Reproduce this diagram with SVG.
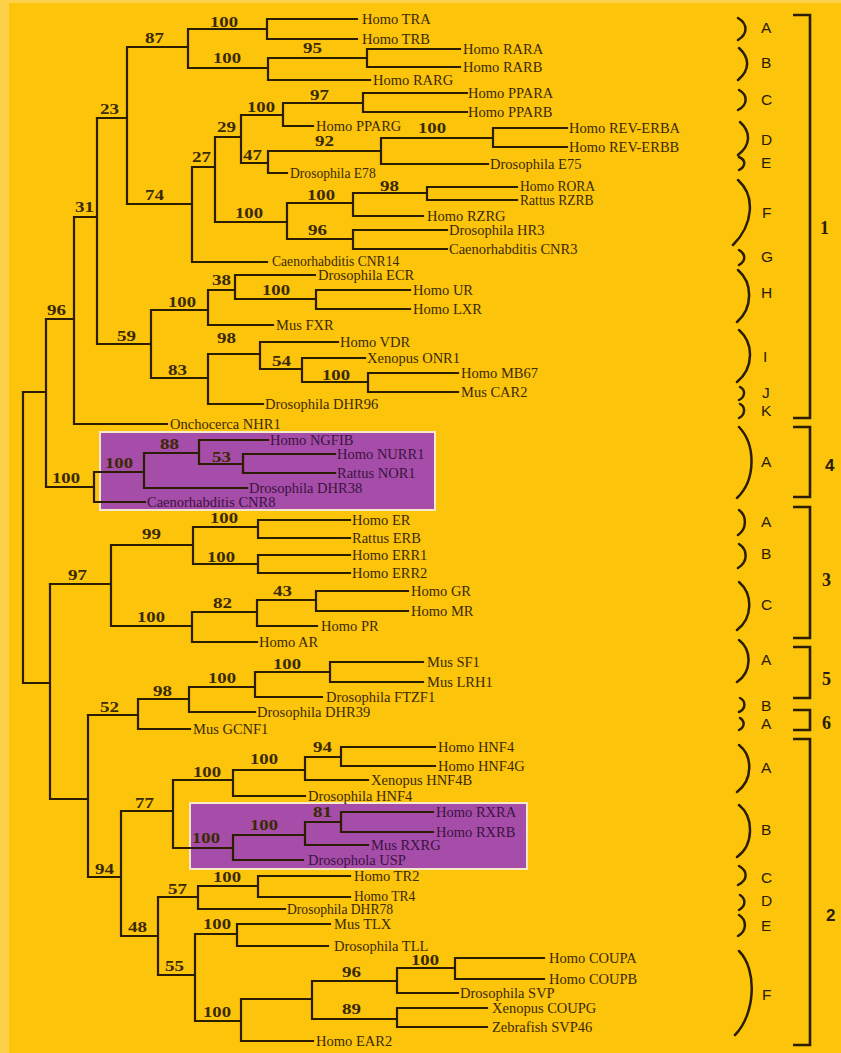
<svg xmlns="http://www.w3.org/2000/svg" width="841" height="1053" viewBox="0 0 841 1053">
<style>
.e{fill:none;stroke:#2a1d00;stroke-width:2.2;stroke-linecap:square}
.br{fill:none;stroke:#2a1d00;stroke-width:2.5;stroke-linecap:round}
.gb{fill:none;stroke:#2a1d00;stroke-width:2.6}
.l{font-family:"Liberation Serif","Times New Roman",serif;font-size:14.5px;fill:#3a2a02}
.t{font-size:13.6px}
.p .l{fill:#3a1440}
.n{font-family:"Liberation Serif","Times New Roman",serif;font-size:14.5px;font-weight:bold;fill:#3a2a02}
.s{font-family:"Liberation Sans",Arial,sans-serif;font-size:15.5px;fill:#2a1d00}
.g{font-family:"Liberation Serif","Times New Roman",serif;font-size:18px;font-weight:bold;fill:#2a1d00}
.gs{font-family:"Liberation Sans",Arial,sans-serif;font-size:17px;font-weight:bold;fill:#2a1d00}
.box{fill:#a64ca9;stroke:#f6e8c8;stroke-width:2}
</style>
<rect x="0" y="0" width="841" height="1053" fill="#fdd24a"/>
<rect x="9" y="3" width="832" height="1050" fill="#fdc40c"/>

<g id="highlight-boxes">
<rect class="box" x="100" y="432" width="335" height="78"/>
<rect class="box" x="190" y="803" width="337" height="66"/>
</g>

<g id="connectors">
<path class="e" d="M267 19H357M267 39H357M267 19V39M188 29H267M367 49H460M367 67H460M367 49V67M268 58H367M268 80H370M268 58V80M188 68H268M188 29V68M127 47H188
M363 93H467M363 112H467M363 93V112M283 103H363M283 126H313M283 103V126M241 115H283
M493 128H567M493 147H567M493 128V147M381 138H493M381 164H488M381 138V164M268 151H381M268 173H287M268 151V173M241 163H268M241 115V163M215 137H241
M427 187H517M427 200H517M427 187V200M353 193H427M353 216H423M353 193V216M287 203H353
M353 230H447M353 249H447M353 230V249M287 239H353M287 203V239M215 222H287M215 137V222M192 167H215M192 262H267M192 167V262M127 204H192M127 47V204M97 118H127"/>
<path class="e" d="M235 275H315M316 290H410M316 309H410M316 290V309M235 299H316M235 275V299M208 290H235M208 325H273M208 290V325M151 310H208
M260 342H338M302 358H365M368 373H458M368 392H458M368 373V392M302 382H368M302 358V382M260 369H302M260 342V369M208 354H260M208 404H263M208 354V404M151 378H208M151 310V378M97 344H151M97 118V344M74 217H97M74 424H167M74 217V424M46 319H74"/>
<path class="e" d="M199 440H268M243 454H335M243 473H335M243 454V473M199 464H243M199 440V464M144 453H199M144 488H247M144 453V488M94 472H144M94 502H145M94 472V502M46 487H94M46 319V487M23 392H46"/>
<path class="e" d="M258 520H350M258 538H350M258 520V538M193 527H258M258 555H350M258 573H350M258 555V573M193 564H258M193 527V564M111 545H193
M316 591H408M316 611H408M316 591V611M257 600H316M257 626H317M257 600V626M192 612H257M192 642H257M192 612V642M111 626H192M111 545V626M50 584H111"/>
<path class="e" d="M330 662H423M330 682H423M330 662V682M255 672H330M255 697H322M255 672V697M189 687H255M189 712H255M189 687V712M138 699H189M138 729H190M138 699V729M88 715H138"/>
<path class="e" d="M341 747H435M341 766H435M341 747V766M305 757H341M305 780H368M305 757V780M233 770H305M233 796H305M233 770V796M173 780H233
M341 812H433M341 832H433M341 812V832M305 822H341M305 845H368M305 822V845M233 835H305M233 860H303M233 835V860M173 848H233M173 780V848M121 811H173
M258 876H350M258 897H350M258 876V897M198 886H258M198 909H285M198 886V909M158 897H198
M237 924H330M237 946H328M237 924V946M195 934H237
M455 958H544M455 979H544M455 958V979M397 968H455M397 993H458M397 968V993M312 981H397M397 1008H487M397 1027H487M397 1008V1027M312 1019H397M312 981V1019M241 999H312M241 1041H313M241 999V1041M195 1021H241M195 934V1021M158 975H195M158 897V975M121 936H158M121 811V936M88 877H121M88 715V877M50 799H88M50 584V799M23 683H50M23 392V683"/>
</g>

<g id="leaves">
<g id="n-TRA"><text class="l" x="362" y="24">Homo TRA</text></g>
<g id="n-TRB"><text class="l" x="362" y="44">Homo TRB</text></g>
<g id="n-RARA"><text class="l" x="463" y="54">Homo RARA</text></g>
<g id="n-RARB"><text class="l" x="463" y="72">Homo RARB</text></g>
<g id="n-RARG"><text class="l" x="373" y="85">Homo RARG</text></g>
<g id="n-PPARA"><text class="l" x="468" y="98">Homo PPARA</text></g>
<g id="n-PPARB"><text class="l" x="468" y="117">Homo PPARB</text></g>
<g id="n-PPARG"><text class="l" x="316" y="131">Homo PPARG</text></g>
<g id="n-REVERBA"><text class="l" x="569" y="133">Homo REV-ERBA</text></g>
<g id="n-REVERBB"><text class="l" x="569" y="152">Homo REV-ERBB</text></g>
<g id="n-E75"><text class="l" x="490" y="169">Drosophila E75</text></g>
<g id="n-E78"><text class="l t" x="290" y="178">Drosophila E78</text></g>
<g id="n-RORA"><text class="l t" x="520" y="191">Homo RORA</text></g>
<g id="n-RZRB"><text class="l t" x="520" y="205">Rattus RZRB</text></g>
<g id="n-RZRG"><text class="l" x="427" y="221">Homo RZRG</text></g>
<g id="n-HR3"><text class="l" x="449" y="235">Drosophila HR3</text></g>
<g id="n-CNR3"><text class="l" x="449" y="254">Caenorhabditis CNR3</text></g>
<g id="n-CNR14"><text class="l t" x="272" y="266">Caenorhabditis CNR14</text></g>
<g id="n-ECR"><text class="l" x="318" y="280">Drosophila ECR</text></g>
<g id="n-UR"><text class="l" x="413" y="295">Homo UR</text></g>
<g id="n-LXR"><text class="l" x="413" y="314">Homo LXR</text></g>
<g id="n-FXR"><text class="l" x="276" y="330">Mus FXR</text></g>
<g id="n-VDR"><text class="l" x="340" y="347">Homo VDR</text></g>
<g id="n-ONR1"><text class="l" x="367" y="363">Xenopus ONR1</text></g>
<g id="n-MB67"><text class="l" x="461" y="378">Homo MB67</text></g>
<g id="n-CAR2"><text class="l" x="461" y="397">Mus CAR2</text></g>
<g id="n-DHR96"><text class="l" x="265" y="409">Drosophila DHR96</text></g>
<g id="n-NHR1"><text class="l" x="170" y="429">Onchocerca NHR1</text></g>
<g class="p">
<g id="n-NGFIB"><text class="l" x="270" y="445">Homo NGFIB</text></g>
<g id="n-NURR1"><text class="l" x="337" y="459">Homo NURR1</text></g>
<g id="n-NOR1"><text class="l" x="337" y="478">Rattus NOR1</text></g>
<g id="n-DHR38"><text class="l" x="249" y="493">Drosophila DHR38</text></g>
<g id="n-CNR8"><text class="l" x="147" y="507">Caenorhabditis CNR8</text></g>
</g>
<g id="n-ER"><text class="l" x="352" y="525">Homo ER</text></g>
<g id="n-ERB"><text class="l" x="352" y="543">Rattus ERB</text></g>
<g id="n-ERR1"><text class="l" x="352" y="560">Homo ERR1</text></g>
<g id="n-ERR2"><text class="l" x="352" y="578">Homo ERR2</text></g>
<g id="n-GR"><text class="l" x="411" y="596">Homo GR</text></g>
<g id="n-MR"><text class="l" x="411" y="616">Homo MR</text></g>
<g id="n-PR"><text class="l" x="321" y="631">Homo PR</text></g>
<g id="n-AR"><text class="l" x="259" y="647">Homo AR</text></g>
<g id="n-SF1"><text class="l" x="427" y="667">Mus SF1</text></g>
<g id="n-LRH1"><text class="l" x="427" y="687">Mus LRH1</text></g>
<g id="n-FTZF1"><text class="l" x="326" y="702">Drosophila FTZF1</text></g>
<g id="n-DHR39"><text class="l" x="257" y="717">Drosophila DHR39</text></g>
<g id="n-GCNF1"><text class="l" x="193" y="734">Mus GCNF1</text></g>
<g id="n-HNF4"><text class="l" x="438" y="752">Homo HNF4</text></g>
<g id="n-HNF4G"><text class="l" x="438" y="771">Homo HNF4G</text></g>
<g id="n-HNF4B"><text class="l" x="371" y="785">Xenopus HNF4B</text></g>
<g id="n-dHNF4"><text class="l" x="308" y="801">Drosophila HNF4</text></g>
<g class="p">
<g id="n-RXRA"><text class="l" x="436" y="817">Homo RXRA</text></g>
<g id="n-RXRB"><text class="l" x="436" y="837">Homo RXRB</text></g>
<g id="n-RXRG"><text class="l" x="371" y="850">Mus RXRG</text></g>
<g id="n-USP"><text class="l" x="308" y="865">Drosophola USP</text></g>
</g>
<g id="n-TR2"><text class="l" x="354" y="881">Homo TR2</text></g>
<g id="n-TR4"><text class="l t" x="354" y="901">Homo TR4</text></g>
<g id="n-DHR78"><text class="l t" x="287" y="914">Drosophila DHR78</text></g>
<g id="n-TLX"><text class="l" x="334" y="929">Mus TLX</text></g>
<g id="n-TLL"><text class="l" x="334" y="951">Drosophila TLL</text></g>
<g id="n-COUPA"><text class="l" x="549" y="963">Homo COUPA</text></g>
<g id="n-COUPB"><text class="l" x="549" y="984">Homo COUPB</text></g>
<g id="n-SVP"><text class="l" x="460" y="998">Drosophila SVP</text></g>
<g id="n-COUPG"><text class="l" x="492" y="1013">Xenopus COUPG</text></g>
<g id="n-SVP46"><text class="l" x="492" y="1032">Zebrafish SVP46</text></g>
<g id="n-EAR2"><text class="l" x="316" y="1046">Homo EAR2</text></g>
</g>

<g id="bootstrap">
<text class="n" x="210" y="27" textLength="28" lengthAdjust="spacingAndGlyphs">100</text>
<text class="n" x="145" y="43" textLength="19" lengthAdjust="spacingAndGlyphs">87</text>
<text class="n" x="303" y="53" textLength="19" lengthAdjust="spacingAndGlyphs">95</text>
<text class="n" x="213" y="63" textLength="28" lengthAdjust="spacingAndGlyphs">100</text>
<text class="n" x="310" y="100" textLength="19" lengthAdjust="spacingAndGlyphs">97</text>
<text class="n" x="247" y="112" textLength="28" lengthAdjust="spacingAndGlyphs">100</text>
<text class="n" x="217" y="132" textLength="19" lengthAdjust="spacingAndGlyphs">29</text>
<text class="n" x="315" y="146" textLength="19" lengthAdjust="spacingAndGlyphs">92</text>
<text class="n" x="418" y="133" textLength="28" lengthAdjust="spacingAndGlyphs">100</text>
<text class="n" x="243" y="160" textLength="19" lengthAdjust="spacingAndGlyphs">47</text>
<text class="n" x="192" y="162" textLength="19" lengthAdjust="spacingAndGlyphs">27</text>
<text class="n" x="100" y="114" textLength="19" lengthAdjust="spacingAndGlyphs">23</text>
<text class="n" x="145" y="200" textLength="19" lengthAdjust="spacingAndGlyphs">74</text>
<text class="n" x="307" y="200" textLength="28" lengthAdjust="spacingAndGlyphs">100</text>
<text class="n" x="380" y="191" textLength="19" lengthAdjust="spacingAndGlyphs">98</text>
<text class="n" x="235" y="218" textLength="28" lengthAdjust="spacingAndGlyphs">100</text>
<text class="n" x="75" y="212" textLength="19" lengthAdjust="spacingAndGlyphs">31</text>
<text class="n" x="308" y="235" textLength="19" lengthAdjust="spacingAndGlyphs">96</text>
<text class="n" x="212" y="285" textLength="19" lengthAdjust="spacingAndGlyphs">38</text>
<text class="n" x="262" y="295" textLength="28" lengthAdjust="spacingAndGlyphs">100</text>
<text class="n" x="168" y="307" textLength="28" lengthAdjust="spacingAndGlyphs">100</text>
<text class="n" x="47" y="315" textLength="19" lengthAdjust="spacingAndGlyphs">96</text>
<text class="n" x="217" y="343" textLength="19" lengthAdjust="spacingAndGlyphs">98</text>
<text class="n" x="117" y="341" textLength="19" lengthAdjust="spacingAndGlyphs">59</text>
<text class="n" x="272" y="366" textLength="19" lengthAdjust="spacingAndGlyphs">54</text>
<text class="n" x="168" y="375" textLength="19" lengthAdjust="spacingAndGlyphs">83</text>
<text class="n" x="322" y="380" textLength="28" lengthAdjust="spacingAndGlyphs">100</text>
<text class="n" x="160" y="449" textLength="19" lengthAdjust="spacingAndGlyphs">88</text>
<text class="n" x="212" y="462" textLength="19" lengthAdjust="spacingAndGlyphs">53</text>
<text class="n" x="105" y="468" textLength="28" lengthAdjust="spacingAndGlyphs">100</text>
<text class="n" x="52" y="483" textLength="28" lengthAdjust="spacingAndGlyphs">100</text>
<text class="n" x="210" y="523" textLength="28" lengthAdjust="spacingAndGlyphs">100</text>
<text class="n" x="142" y="539" textLength="19" lengthAdjust="spacingAndGlyphs">99</text>
<text class="n" x="207" y="562" textLength="28" lengthAdjust="spacingAndGlyphs">100</text>
<text class="n" x="68" y="580" textLength="19" lengthAdjust="spacingAndGlyphs">97</text>
<text class="n" x="273" y="596" textLength="19" lengthAdjust="spacingAndGlyphs">43</text>
<text class="n" x="213" y="608" textLength="19" lengthAdjust="spacingAndGlyphs">82</text>
<text class="n" x="137" y="622" textLength="28" lengthAdjust="spacingAndGlyphs">100</text>
<text class="n" x="273" y="669" textLength="28" lengthAdjust="spacingAndGlyphs">100</text>
<text class="n" x="208" y="683" textLength="28" lengthAdjust="spacingAndGlyphs">100</text>
<text class="n" x="153" y="696" textLength="19" lengthAdjust="spacingAndGlyphs">98</text>
<text class="n" x="100" y="712" textLength="19" lengthAdjust="spacingAndGlyphs">52</text>
<text class="n" x="313" y="752" textLength="19" lengthAdjust="spacingAndGlyphs">94</text>
<text class="n" x="250" y="764" textLength="28" lengthAdjust="spacingAndGlyphs">100</text>
<text class="n" x="193" y="777" textLength="28" lengthAdjust="spacingAndGlyphs">100</text>
<text class="n" x="135" y="808" textLength="19" lengthAdjust="spacingAndGlyphs">77</text>
<text class="n" x="313" y="817" textLength="19" lengthAdjust="spacingAndGlyphs">81</text>
<text class="n" x="250" y="830" textLength="28" lengthAdjust="spacingAndGlyphs">100</text>
<text class="n" x="192" y="843" textLength="28" lengthAdjust="spacingAndGlyphs">100</text>
<text class="n" x="95" y="874" textLength="19" lengthAdjust="spacingAndGlyphs">94</text>
<text class="n" x="213" y="882" textLength="28" lengthAdjust="spacingAndGlyphs">100</text>
<text class="n" x="168" y="894" textLength="19" lengthAdjust="spacingAndGlyphs">57</text>
<text class="n" x="203" y="929" textLength="28" lengthAdjust="spacingAndGlyphs">100</text>
<text class="n" x="128" y="932" textLength="19" lengthAdjust="spacingAndGlyphs">48</text>
<text class="n" x="411" y="965" textLength="28" lengthAdjust="spacingAndGlyphs">100</text>
<text class="n" x="165" y="971" textLength="19" lengthAdjust="spacingAndGlyphs">55</text>
<text class="n" x="342" y="977" textLength="19" lengthAdjust="spacingAndGlyphs">96</text>
<text class="n" x="342" y="1014" textLength="19" lengthAdjust="spacingAndGlyphs">89</text>
<text class="n" x="203" y="1017" textLength="28" lengthAdjust="spacingAndGlyphs">100</text>
</g>

<g id="subfamily-marks">
<path class="br" d="M738 18C748 24 748 34 738 40M739 48C750 58 750 70 738 80M739 90C748 95 748 105 738 110M740 122C751 132 751 145 738 155M739 157C746 160 746 166 739 170M738 180C756 196 753 225 733 245M739 250C746 254 746 261 739 265M738 270C753 283 753 308 737 322M739 330C754 343 754 368 737 382M740 387C746 390 745 397 739 400M740 404C746 407 745 415 739 418"/>
<path class="br" d="M739 427C756 445 756 480 737 498M739 510C747 516 747 529 738 535M739 544C748 550 748 562 738 568M739 582C753 594 753 618 737 630M739 640C752 650 752 672 737 682M740 698C746 701 746 709 739 712M740 718C745 721 745 727 739 730"/>
<path class="br" d="M739 745C753 756 753 780 737 792M739 805C754 817 754 845 737 857M739 866C748 871 748 880 738 885M740 895C746 899 746 906 739 910M739 915C747 920 747 931 738 936M739 951C758 970 755 1015 735 1035"/>
<text class="s" x="761" y="33">A</text>
<text class="s" x="761" y="68">B</text>
<text class="s" x="761" y="105">C</text>
<text class="s" x="761" y="145">D</text>
<text class="s" x="761" y="168">E</text>
<text class="s" x="762" y="218">F</text>
<text class="s" x="761" y="262">G</text>
<text class="s" x="761" y="298">H</text>
<text class="s" x="763" y="362">I</text>
<text class="s" x="762" y="398">J</text>
<text class="s" x="761" y="416">K</text>
<text class="s" x="761" y="467">A</text>
<text class="s" x="761" y="527">A</text>
<text class="s" x="761" y="559">B</text>
<text class="s" x="761" y="610">C</text>
<text class="s" x="761" y="665">A</text>
<text class="s" x="761" y="711">B</text>
<text class="s" x="761" y="729">A</text>
<text class="s" x="761" y="773">A</text>
<text class="s" x="761" y="835">B</text>
<text class="s" x="761" y="883">C</text>
<text class="s" x="761" y="906">D</text>
<text class="s" x="761" y="931">E</text>
<text class="s" x="762" y="1000">F</text>
</g>

<g id="family-brackets">
<path class="gb" d="M793 15H810V418H793M793 427H810V497H793M793 507H810V638H793M793 647H810V698H793M793 710H810V730H793M793 739H810V1045H793"/>
<text class="g" x="820" y="234">1</text>
<text class="gs" x="825" y="471">4</text>
<text class="g" x="822" y="586">3</text>
<text class="g" x="822" y="685">5</text>
<text class="g" x="822" y="729">6</text>
<text class="gs" x="826" y="921">2</text>
</g>
</svg>
